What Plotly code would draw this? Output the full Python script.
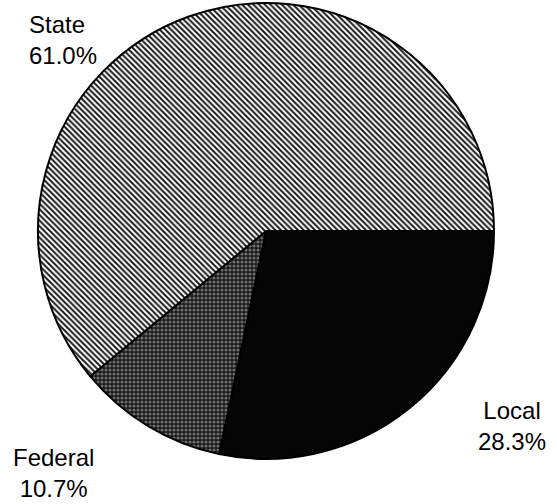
import plotly.graph_objects as go

# Fonte de receita por nível de governo (percentuais)
labels = ['Local', 'Federal', 'State']
values = [28.3, 10.7, 61.0]

fill_colors = ['#050505', '#161616', '#ffffff']
pattern_shapes = ['', '.', '\\']
pattern_fg = ['#050505', '#6e6e6e', '#1a1a1a']

W, H = 557, 504


def px_x(x):
    return x / W


def px_y(y):
    return 1 - y / H


fig = go.Figure(data=[go.Pie(
    labels=labels,
    values=values,
    sort=False,
    direction='clockwise',
    rotation=90,
    textinfo='none',
    hoverinfo='label+percent',
    showlegend=False,
    domain=dict(x=[px_x(37), px_x(495)], y=[px_y(459), px_y(3)]),
    marker=dict(
        colors=fill_colors,
        line=dict(color='#000000', width=2),
        pattern=dict(
            shape=pattern_shapes,
            fgcolor=pattern_fg,
            bgcolor=fill_colors,
            size=4,
            solidity=0.5,
        ),
    ),
)])

# posições dos rótulos em pixels (x, y) e alinhamento
label_pos = {
    'State': (27, 40, 'left'),
    'Federal': (53, 473, 'center'),
    'Local': (512, 426, 'center'),
}

for lab, val in zip(labels, values):
    lx, ly, al = label_pos[lab]
    fig.add_annotation(
        x=px_x(lx), y=px_y(ly),
        xref='paper', yref='paper',
        text=f'{lab}<br>{val:.1f}%',
        showarrow=False,
        align=al,
        xanchor='left' if al == 'left' else 'center',
        yanchor='middle',
        font=dict(family='Arial, Liberation Sans', size=24, color='#000000'),
    )

fig.update_layout(
    width=W,
    height=H,
    margin=dict(t=0, b=0, l=0, r=0),
    paper_bgcolor='#FFFFFF',
    plot_bgcolor='#FFFFFF',
)

# tira a margem padrão do body para a figura ocupar a janela inteira
fig.write_html('out.html', config={'displayModeBar': False},
               post_script="document.body.style.margin='0';")
